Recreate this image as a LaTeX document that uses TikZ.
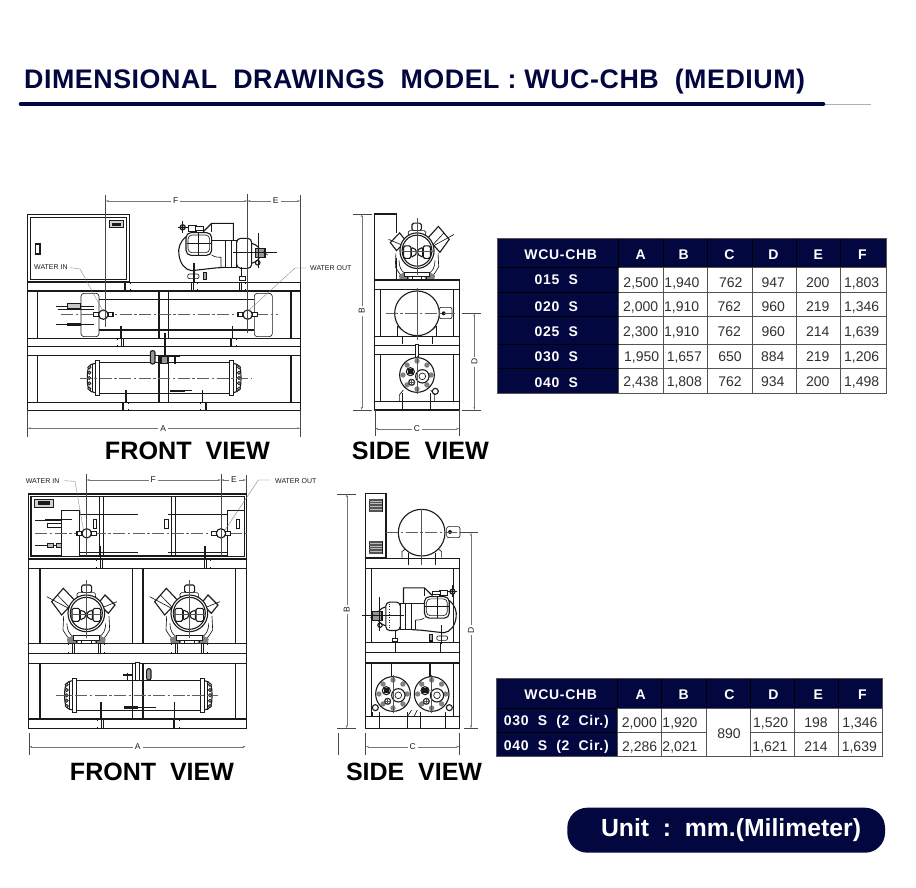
\documentclass[tikz,border=0pt]{standalone}
\usepackage{fontspec}
\setmainfont{Liberation Sans}
\usetikzlibrary{arrows.meta,calc}
\definecolor{navy}{HTML}{03073F}
\definecolor{ink}{HTML}{1A1A1A}
\tikzset{
  ln/.style={line width=.65pt,draw=ink},
  thk/.style={line width=1.1pt,draw=ink},
  hair/.style={line width=.35pt,draw=ink!75},
  cl/.style={line width=.4pt,draw=ink!70,dash pattern=on 12pt off 2.5pt on 2.5pt off 2.5pt},
  dimln/.style={line width=.3pt,draw=ink!60,{Stealth[length=3.2pt,width=1.8pt]}-{Stealth[length=3.2pt,width=1.8pt]}},
  ext/.style={line width=.5pt,draw=ink!80},
  dimlab/.style={fill=white,inner sep=2pt,text=ink,font=\fontsize{8.5}{9}\selectfont},
  small/.style={inner sep=0pt,text=ink,font=\fontsize{7}{8}\selectfont},
  leader/.style={line width=.3pt,draw=ink!60},
  cellnum/.style={inner sep=0pt,text height=10pt,text depth=0pt,text=ink!90,font=\fontsize{14}{16}\selectfont},
  headlab/.style={inner sep=0pt,text height=10.2pt,text depth=0pt,text=white,font=\fontsize{14}{16}\selectfont\bfseries\addfontfeature{LetterSpace=5}},
  viewlab/.style={inner sep=0pt,text=black},
  tblline/.style={line width=.7pt,draw=ink!75},
  tblhead/.style={line width=.7pt,draw=black},
}
\newcommand{\dimh}[6]{\coordinate (#1a) at (#2,#4);\coordinate (#1b) at (#3,#4);
  \draw[dimln] (#1a) -- (#1b);\node[dimlab] (#1l) at (#5,#4) {#6};}
\newcommand{\dimv}[6]{\coordinate (#1a) at (#4,#2);\coordinate (#1b) at (#4,#3);
  \draw[dimln] (#1a) -- (#1b);\node[dimlab,rotate=90] (#1l) at (#4,#5) {#6};}
% channel section on a rail
\newcommand{\chan}[4]{\begin{scope}[shift={(#1,#2)},xscale=#4]
  \draw[ln] (9,0) -- (-9,0) -- (-9,#3) -- (9,#3);
  \draw[ln] (-4,0) -- (-4,#3);
  \draw[ln] (9,0) -- (9,5);\draw[ln] (9,#3) -- +(0,-5);
\end{scope}}
% water connection
\newcommand{\wconn}[2]{\begin{scope}[shift={(#1,#2)}]
  \draw[thk,fill=white] (-29,-6) rectangle (-14,6);
  \draw[thk,fill=white] (14,-6) rectangle (29,6);
  \draw[thk,fill=white] (0,0) circle (14);
\end{scope}}
% heat exchanger head, tube end at origin
\newcommand{\hxhead}{
  \draw[ln,fill=white] (-13,-52) rectangle (0,52);
  \draw[thk] (-13,-44) .. controls (-32,-42) and (-36,-30) .. (-36,0) .. controls (-36,30) and (-32,42) .. (-13,44);
  \draw[ln] (-21,-43) -- (-21,43);
  \foreach \yy in {-32,-16,0,16,32}{\draw[ln,fill=ink!45] (-30,\yy) circle (5);}
}
% compressor seen from its end
\newcommand{\cmpfront}{
  \draw[ln] (-68,8) -- (-70,50) -- (-60,66) -- (-50,78);
  \draw[ln] (68,8) -- (70,50) -- (60,66) -- (50,78);
  \draw[ln] (-58,30) .. controls (-58,52) and (-50,62) .. (-42,68);
  \draw[ln] (58,30) .. controls (58,52) and (50,62) .. (42,68);
  \fill[ink!55] (-58,76) -- (-40,66) -- (-24,80) -- (-26,90) -- (-56,90) -- cycle;
  \fill[ink!55] (58,76) -- (40,66) -- (24,80) -- (26,90) -- (56,90) -- cycle;
  \draw[ln,fill=white] (-40,66) rectangle (40,80);
  \foreach \xx in {-30,-15,15,30}{\draw[ln] (\xx,80) -- (\xx,90);}
  \draw[thk,fill=white] (-104,-35) -- (-69,-75) -- (-34,-38) -- (-74,5) -- cycle;
  \draw[ln] (-87,-55) -- (-50,-17);
  \draw[ln] (-119,-50) -- (-25,0);
  \draw[thk,fill=white] (36,-30) -- (56,-55) -- (86,-25) -- (66,0) -- cycle;
  \draw[ln] (25,-8) -- (92,-35);
  \draw[thk,fill=white,rounded corners=1.5pt] (-14,-85) rectangle (16,-62);
  \draw[ln,fill=white,rounded corners=1.5pt] (-28,-62) rectangle (28,-47);
  \draw[thk,fill=white] (0,0) circle (55);
  \draw[thk] (0,0) circle (48);
  \draw[thk,fill=white,rounded corners=1.5pt] (-43,-15) rectangle (-20,24);
  \draw[thk,fill=white,rounded corners=1.5pt] (20,-15) rectangle (43,24);
  \draw[thk,fill=white,rounded corners=1pt] (-18,-10) -- (-3,-3) -- (-3,12) -- (-18,20) -- cycle;
  \draw[thk,fill=white,rounded corners=1pt] (18,-10) -- (3,-3) -- (3,12) -- (18,20) -- cycle;
  \draw[hair] (0,-100) -- (0,75);
  \draw[hair] (-50,3) -- (50,3);
}
% compressor seen from the side (coordinates as in the first front view)
\newcommand{\sidecomp}{
  \draw[thk] (513,170) .. controls (495,185) and (488,205) .. (492,225) .. controls (495,250) and (510,270) .. (530,272) -- (600,264) -- (630,262);
  \draw[ln] (590,225) .. controls (600,232) and (610,232) .. (618,232) -- (618,262);
  \draw[ln] (590,180) -- (630,180);
  \draw[thk] (565,155) -- (590,130) -- (655,130) -- (655,180);
  \draw[ln] (590,130) -- (590,155);
  \draw[thk,fill=white,rounded corners=5pt] (513,158) rectangle (590,226);
  \draw[ln,rounded corners=4pt] (519,165) rectangle (584,218);
  \draw[ln] (551,160) -- (551,224);\draw[ln] (515,190) -- (588,190);
  \draw[ln,fill=white] (520,137) rectangle (545,155);
  \draw[ln,fill=white] (540,140) rectangle (565,152);
  \draw[thk,fill=ink!40] (503,142) circle (8);
  \draw[ln] (488,142) -- (520,142);\draw[ln] (503,122) -- (503,160);
  \draw[ln,fill=white] (630,180) rectangle (665,262);
  \draw[ln] (650,180) -- (650,262);
  \draw[thk,fill=white,rounded corners=4pt] (665,175) rectangle (710,265);
  \draw[ln,dotted] (698,180) -- (698,260);
  \draw[thk] (710,190) .. controls (728,195) and (736,205) .. (736,220) .. controls (736,235) and (728,245) .. (710,250);
  \draw[thk,fill=ink!45] (722,205) rectangle (750,232);
  \draw[thk] (728,248) circle (7);
  \draw[ln] (745,215) -- (758,225);
  \draw[ln] (655,218) -- (785,218);
  \draw[ln] (730,160) -- (730,265);
  \draw[ln,fill=white,rounded corners=2pt] (518,282) rectangle (552,296);
  \draw[thk] (537,248) -- (537,306);
  \draw[thk,fill=ink!40] (566,278) rectangle (575,298);
  \draw[thk] (680,262) -- (680,300);
  \draw[ln,fill=white] (674,290) rectangle (690,300);
}
% tube-sheet seen from its end
\newcommand{\tankface}{
  \draw[thk,fill=white] (0,0) circle (52);
  \foreach \ang in {0,45,...,315}{\fill[ink!55] (\ang:42) circle (8);}
  \draw[thk] (-20,-10) circle (12);
  \fill[ink] (-28,-18) rectangle (-12,-2);
  \draw[thk,fill=white] (16,4) circle (20);
  \draw[ln] (16,4) circle (10);
  \draw[thk,fill=white] (-16,22) circle (9);
  \draw[hair] (-16,12) -- (-16,32);\draw[hair] (-26,22) -- (-6,22);
  \draw[hair] (0,-58) -- (0,58);
}
\newcommand{\louvre}[4]{\draw[ln,fill=ink!30] (#1,#2) rectangle (#3,#4);
  \foreach \frc in {0,.125,...,1}{\draw[hair] ($(#1,#2)!\frc!(#1,#4)$) -- ($(#3,#2)!\frc!(#3,#4)$);}}
\begin{document}
\begin{tikzpicture}[x=1pt,y=-1pt]
\useasboundingbox (0,0) rectangle (916,888);
\fill[white] (0,0) rectangle (916,888);
% title
\node[anchor=base west,inner sep=0pt,text=navy] (title) at (24,89)
  {\resizebox{781pt}{!}{\fontsize{25}{28}\selectfont\bfseries\addfontfeature{LetterSpace=2}DIMENSIONAL\ \ DRAWINGS\ \ MODEL\ :\ WUC-CHB\ \ (MEDIUM)}};
\draw[line width=.5pt,draw=ink!35] (800,104) -- (871,104);
\draw[line width=4.6pt,draw=navy,line cap=round] (21,104) -- (823,104);

% ---------- first front view
\begin{scope}[shift={(15,180)},scale=1/3]
  \draw[thk] (38,104) rectangle (344,305);
  \draw[thk] (46,113) rectangle (335,298);
  \draw[ln,fill=ink!20] (282,122) rectangle (326,143);
  \fill[ink] (292,128) rectangle (318,137);
  \draw[thk] (62,192) rectangle (75,222);
  \draw[thk] (38,307) rectangle (856,333);
  \draw[thk] (38,476) rectangle (856,500);
  \draw[thk] (38,500) rectangle (856,527);
  \draw[thk] (38,668) rectangle (856,691);
  \foreach \xx in {38,68,432,461,828,856}{
    \draw[thk] (\xx,333) -- (\xx,476);
    \draw[thk] (\xx,527) -- (\xx,668);}
  % upper exchanger
  \draw[thk] (252,358) -- (718,358);
  \draw[thk] (252,450) -- (718,450);
  \draw[ln,fill=white,rounded corners=3pt] (198,340) rectangle (252,470);
  \draw[ln,fill=white,rounded corners=3pt] (718,340) rectangle (772,470);
  \draw[ln] (123,378) -- (237,378);\draw[ln] (130,388) -- (237,388);
  \draw[ln,fill=ink!25] (157,370) rectangle (197,384);
  \draw[ln] (123,433) -- (237,433);
  \fill[ink] (155,428) rectangle (197,438);
  \draw[cl] (138,404) -- (788,404);
  \wconn{265}{404}\wconn{698}{404}
  \draw[thk] (318,438) -- (318,476);
  \draw[thk] (652,438) -- (652,476);
  \chan{316}{476}{24}{-1}\chan{654}{476}{24}{1}
  \chan{336}{307}{26}{1}\chan{538}{307}{26}{1}\chan{682}{307}{26}{1}
  % lower exchanger
  \draw[thk] (253,547) -- (642,547);
  \draw[thk] (253,640) -- (642,640);
  \begin{scope}[shift={(253,594)}]\hxhead\end{scope}
  \begin{scope}[shift={(642,594)},xscale=-1]\hxhead\end{scope}
  \draw[cl] (195,595) -- (708,595);
  \draw[thk,fill=ink!45,rounded corners=2pt] (406,512) rectangle (420,552);
  \draw[ln] (447,460) -- (447,530);\draw[ln] (452,460) -- (452,530);
  \draw[thk,fill=ink!45] (438,530) rectangle (458,550);
  \draw[thk] (462,530) -- (494,530);\draw[thk] (480,525) -- (480,552);
  \fill[ink] (465,629) rectangle (510,636);
  \draw[ln] (510,632) -- (532,632);
  \draw[thk] (333,630) -- (333,668);\draw[thk] (563,630) -- (563,668);
  \chan{330}{668}{23}{1}\chan{566}{668}{23}{-1}
  % compressor
  \sidecomp
  % dimensions
  \draw[ext] (272,45) -- (272,440);
  \draw[ext] (697,42) -- (697,460);
  \draw[ext] (856,45) -- (856,305);
  \draw[ext] (38,691) -- (38,770);
  \draw[ext] (856,691) -- (856,770);
  \dimh{fa}{272}{697}{63}{482}{F}
  \dimh{fe}{697}{856}{63}{782}{E}
  \dimh{aa}{38}{856}{745}{445}{A}
  \node[small,anchor=west] (win) at (57,260) {WATER IN};
  \coordinate (wina) at (165,263);
  \coordinate (winb) at (195,267);
  \coordinate (winc) at (265,395);
  \draw[leader] (wina) -- (winb) -- (winc);
  \node[small,anchor=west] (wout) at (885,264) {WATER OUT};
  \coordinate (wouta) at (875,264);
  \coordinate (woutb) at (840,264);
  \coordinate (woutc) at (700,392);
  \draw[leader] (wouta) -- (woutb) -- (woutc);
\end{scope}

% ---------- first side view
\begin{scope}[shift={(340,200)},scale=1/3]
  \draw[thk] (103,42) -- (170,42) -- (170,100);
  \draw[thk] (103,42) -- (103,240);
  \draw[thk] (170,175) -- (170,240);
  \begin{scope}[shift={(231,152)},xscale=-.93,yscale=.97]\cmpfront\end{scope}
  \draw[thk] (103,240) rectangle (358,268);
  \draw[thk] (103,410) rectangle (358,437);
  \draw[thk] (103,437) rectangle (358,464);
  \draw[thk] (103,605) rectangle (358,630);
  \foreach \xx in {103,122,340,358}{
    \draw[thk] (\xx,268) -- (\xx,410);
    \draw[thk] (\xx,464) -- (\xx,605);}
  % receiver
  \draw[ln] (172,378) -- (172,410);\draw[ln] (172,378) -- (186,390);
  \draw[ln] (290,378) -- (290,410);\draw[ln] (290,378) -- (276,390);
  \draw[ln] (186,410) -- (186,432);\draw[ln] (276,410) -- (276,432);
  \draw[thk,fill=white] (231,340) circle (67);
  \draw[ln,fill=white,rounded corners=2pt] (298,322) rectangle (336,356);
  \fill[ink] (311,340) circle (6);
  \draw[cl] (137,340) -- (345,340);
  \draw[hair] (231,265) -- (231,420);
  % tank end
  \draw[ln,fill=white] (226,432) rectangle (236,478);
  \draw[ln] (178,605) -- (178,585) -- (190,570);
  \draw[ln] (284,605) -- (284,585) -- (272,570);
  \draw[ln] (188,580) -- (188,630);\draw[ln] (272,580) -- (272,630);
  \begin{scope}[shift={(231,525)}]\tankface\end{scope}
  \draw[thk,fill=white] (286,574) circle (9);
  % dimensions
  \draw[ext] (38,42) -- (95,42);
  \draw[ext] (38,630) -- (95,630);
  \draw[ext] (365,340) -- (422,340);
  \draw[ext] (365,630) -- (422,630);
  \draw[ext] (105,630) -- (105,708);
  \draw[ext] (358,630) -- (358,708);
  \dimv{sb}{42}{630}{65}{332}{B}
  \dimv{sd}{340}{630}{403}{485}{D}
  \dimh{sc}{105}{358}{686}{231}{C}
\end{scope}

% ---------- second front view
\begin{scope}[shift={(15,470)},scale=1/3]
  \draw[thk] (40,72) rectangle (695,265);
  \draw[thk] (48,80) rectangle (688,258);
  \draw[ln,fill=ink!20] (58,88) rectangle (116,112);
  \fill[ink] (70,94) rectangle (106,106);
  \draw[ln] (252,80) -- (252,258);\draw[ln] (265,80) -- (265,258);
  \draw[ln] (468,80) -- (468,258);\draw[ln] (481,80) -- (481,258);
  \draw[ln] (192,133) -- (368,133);\draw[ln] (460,133) -- (637,133);
  \draw[ln] (192,247) -- (368,247);\draw[ln] (460,247) -- (637,247);
  \draw[ln,fill=white] (140,120) rectangle (192,260);
  \draw[ln,fill=white] (637,120) rectangle (688,260);
  \draw[ln] (234,147) rectangle (245,176);
  \draw[ln] (449,147) rectangle (460,176);
  \draw[ln] (663,147) rectangle (673,176);
  \draw[ln] (60,150) -- (140,150);\draw[thk] (90,148) -- (170,148);
  \draw[ln] (98,160) rectangle (140,172);
  \draw[ln] (60,225) -- (140,225);
  \draw[ln,fill=ink!30] (98,220) rectangle (115,231);
  \draw[ln,fill=ink!30] (124,220) rectangle (139,231);
  \draw[cl] (60,190) -- (700,190);
  \wconn{215}{190}\wconn{618}{190}
  \draw[thk] (256,228) -- (256,268);\draw[thk] (570,228) -- (570,268);
  \draw[thk] (40,268) rectangle (695,296);
  \draw[thk] (40,520) rectangle (695,550);
  \draw[thk] (40,550) rectangle (695,580);
  \draw[thk] (40,747) rectangle (695,775);
  \foreach \xx in {40,75,352,384,661,695}{
    \draw[thk] (\xx,296) -- (\xx,520);
    \draw[thk] (\xx,580) -- (\xx,747);}
  \chan{253}{268}{28}{-1}\chan{577}{268}{28}{1}
  % compressors
  \begin{scope}[shift={(214,430)}]\cmpfront\end{scope}
  \begin{scope}[shift={(523,430)}]\cmpfront\end{scope}
  \chan{169}{520}{30}{-1}\chan{259}{520}{30}{1}
  \chan{478}{520}{30}{-1}\chan{568}{520}{30}{1}
  % lower exchanger
  \draw[thk] (185,631) -- (555,631);
  \draw[thk] (185,722) -- (555,722);
  \begin{scope}[shift={(185,676)}]\hxhead\end{scope}
  \begin{scope}[shift={(555,676)},xscale=-1]\hxhead\end{scope}
  \draw[cl] (122,675) -- (610,675);
  \draw[ln,fill=white] (362,578) rectangle (374,632);
  \draw[thk,fill=ink!45,rounded corners=2pt] (395,596) rectangle (408,630);
  \draw[thk] (325,615) -- (352,615);\draw[thk] (338,610) -- (338,632);
  \fill[ink] (328,709) rectangle (370,716);
  \draw[ln] (370,713) -- (422,713);
  \draw[thk] (258,695) -- (258,747);\draw[thk] (478,695) -- (478,747);
  \chan{256}{747}{28}{-1}\chan{483}{747}{28}{1}
  % dimensions
  \draw[ext] (215,13) -- (215,258);
  \draw[ext] (618,13) -- (618,258);
  \draw[ext] (693,15) -- (693,70);
  \draw[ext] (42,790) -- (42,855);
  \dimh{ff}{215}{618}{30}{415}{F}
  \dimh{fg}{618}{693}{30}{657}{E}
  \dimh{ab}{43}{692}{830}{368}{A}
  \node[small,anchor=west] (win2) at (32,32) {WATER IN};
  \coordinate (win2a) at (148,32);
  \coordinate (win2b) at (180,34);
  \coordinate (win2c) at (205,178);
  \draw[leader] (win2a) -- (win2b) -- (win2c);
  \node[small,anchor=west] (wout2) at (780,32) {WATER OUT};
  \coordinate (wout2a) at (765,30);
  \coordinate (wout2b) at (730,30);
  \coordinate (wout2c) at (630,180);
  \draw[leader] (wout2a) -- (wout2b) -- (wout2c);
\end{scope}

% ---------- second side view
\begin{scope}[shift={(330,485)},scale=1/3]
  \draw[thk] (107,25) rectangle (168,218);
  \louvre{118}{42}{157}{80}
  \louvre{118}{168}{157}{205}
  % receiver
  \draw[ln] (216,218) -- (216,200) -- (232,186);
  \draw[ln] (335,218) -- (335,200) -- (318,186);
  \draw[thk,fill=white] (275,143) circle (70);
  \draw[ln,fill=white,rounded corners=2pt] (350,125) rectangle (390,158);
  \fill[ink] (360,141) circle (6);
  \draw[cl] (168,143) -- (415,143);
  \draw[hair] (275,73) -- (275,240);
  \draw[ln] (234,205) -- (234,240);\draw[ln] (316,205) -- (316,240);
  \draw[thk] (107,220) rectangle (388,250);
  \draw[thk] (107,473) rectangle (388,503);
  \draw[thk] (107,503) rectangle (388,534);
  \draw[thk] (107,695) rectangle (388,730);
  \foreach \xx in {107,125,370,388}{
    \draw[thk] (\xx,250) -- (\xx,473);
    \draw[thk] (\xx,534) -- (\xx,695);}
  % compressor
  \begin{scope}[shift={(853.3,184.9)},xscale=-.966,yscale=.95]\sidecomp\end{scope}
  \draw[ln] (197,470) -- (197,503);\draw[ln] (330,470) -- (330,503);
  % tanks
  \draw[thk] (185,534) -- (185,575);\draw[thk] (300,534) -- (300,575);
  \begin{scope}[shift={(189,627)}]\tankface\end{scope}
  \begin{scope}[shift={(305,627)}]\tankface\end{scope}
  \draw[thk,fill=white] (136,668) circle (9);
  \draw[thk,fill=white] (358,668) circle (9);
  \foreach \xx in {148,232,270,347}{\draw[ln] (\xx,680) -- (\xx,730);}
  \draw[ln] (128,695) -- (128,680);\draw[ln] (232,695) -- (245,675);\draw[ln] (252,695) -- (262,675);
  % dimensions
  \draw[ext] (22,27) -- (78,27);
  \draw[ext] (22,730) -- (78,730);
  \draw[ext] (390,143) -- (443,143);
  \draw[ext] (403,730) -- (443,730);
  \draw[ext] (25,745) -- (25,810);
  \draw[ext] (107,745) -- (107,810);
  \draw[ext] (388,745) -- (388,810);
  \dimv{tb}{27}{730}{50}{373}{B}
  \dimv{td}{143}{730}{423}{435}{D}
  \dimh{tc}{107}{388}{785}{248}{C}
\end{scope}

% view captions
\node[viewlab] (fv1) at (187.5,451) {\resizebox{165pt}{!}{\fontsize{25}{28}\selectfont\bfseries FRONT\ \ VIEW}};
\node[viewlab] (sv1) at (420.5,451) {\resizebox{137pt}{!}{\fontsize{25}{28}\selectfont\bfseries SIDE\ \ VIEW}};
\node[viewlab] (fv2) at (152,772) {\resizebox{164pt}{!}{\fontsize{25}{28}\selectfont\bfseries FRONT\ \ VIEW}};
\node[viewlab] (sv2) at (414,772) {\resizebox{136pt}{!}{\fontsize{25}{28}\selectfont\bfseries SIDE\ \ VIEW}};

% ---------- table one
\fill[navy] (497.7,238.3) rectangle (618.7,393.3);
\fill[navy] (618.7,238.3) rectangle (886.7,267.7);
\foreach \xx in {618.7,663,707.7,752,796.7,840.3}{\draw[tblhead] (\xx,238.3) -- (\xx,267.7);}
\foreach \xx in {618.7,663,707.7,752,796.7,840.3,886.7}{\draw[tblline] (\xx,267.7) -- (\xx,393.3);}
\foreach \yy in {267.7,292.3,316.7,344.3,368.7}{\draw[tblline] (618.7,\yy) -- (886.7,\yy);\draw[tblhead] (497.7,\yy) -- (618.7,\yy);}
\draw[tblline] (497.7,238.3) rectangle (886.7,393.3);
\node[headlab] (ah) at (560.7,254.7) {WCU-CHB};
\foreach \xx/\vv [count=\nn] in {640.7/A,683.7/B,729.3/C,773.3/D,818.3/E,862.3/F}{\node[headlab] (ah\nn) at (\xx,254.7) {\vv};}
\foreach \yy/\vv [count=\nn] in {279/015,306/020,331/025,356.7/030,382.7/040}{\node[headlab] (ar\nn) at (556.3,\yy) {\vv\ \ S};}
\foreach \xx/\vv [count=\nn] in {641/{2,500},682/{1,940},730.7/762,773.3/947,817.7/200,861.7/{1,803}}{\node[cellnum] (ra\nn) at (\xx,282.3) {\vv};}
\foreach \xx/\vv [count=\nn] in {640.7/{2,000},681.7/{1,910},729.3/762,773.3/960,817.7/219,861.7/{1,346}}{\node[cellnum] (rb\nn) at (\xx,306) {\vv};}
\foreach \xx/\vv [count=\nn] in {640.7/{2,300},681.7/{1,910},729.3/762,773.3/960,817.7/214,861.7/{1,639}}{\node[cellnum] (rc\nn) at (\xx,331) {\vv};}
\foreach \xx/\vv [count=\nn] in {641.7/{1,950},684.3/{1,657},730/650,772.7/884,817.7/219,861.7/{1,206}}{\node[cellnum] (rd\nn) at (\xx,356.7) {\vv};}
\foreach \xx/\vv [count=\nn] in {641/{2,438},684.3/{1,808},730/762,772.7/934,817.7/200,861.7/{1,498}}{\node[cellnum] (re\nn) at (\xx,381.3) {\vv};}

% ---------- table two
\fill[navy] (496.3,678.3) rectangle (617.3,756.7);
\fill[navy] (617.3,678.3) rectangle (882.7,708.3);
\foreach \xx in {617.3,661.3,706.3,750.3,794.3,838.7}{\draw[tblhead] (\xx,678.3) -- (\xx,708.3);}
\foreach \xx in {617.3,661.3,706.3,750.3,794.3,838.7,882.7}{\draw[tblline] (\xx,708.3) -- (\xx,756.7);}
\draw[tblline] (617.3,708.3) -- (882.7,708.3);
\draw[tblline] (617.3,732.3) -- (706.3,732.3);
\draw[tblline] (750.3,732.3) -- (882.7,732.3);
\draw[tblhead] (496.3,708.3) -- (617.3,708.3);
\draw[tblhead] (496.3,732.3) -- (617.3,732.3);
\draw[tblline] (496.3,678.3) rectangle (882.7,756.7);
\node[headlab] (bh) at (560.7,694) {WCU-CHB};
\foreach \xx/\vv [count=\nn] in {640.7/A,683.7/B,729.3/C,773.3/D,818.3/E,862.3/F}{\node[headlab] (bh\nn) at (\xx,694) {\vv};}
\node[headlab] (br1) at (556.3,720) {030\ \ S\ \ (2\ \ Cir.)};
\node[headlab] (br2) at (556.3,745) {040\ \ S\ \ (2\ \ Cir.)};
\foreach \xx/\vv [count=\nn] in {639.3/{2,000},680/{1,920},770.7/{1,520},816/198,860/{1,346}}{\node[cellnum] (sa\nn) at (\xx,722.3) {\vv};}
\foreach \xx/\vv [count=\nn] in {639.7/{2,286},680/{2,021},770/{1,621},816/214,859.3/{1,639}}{\node[cellnum] (sb\nn) at (\xx,746) {\vv};}
\node[cellnum] (bc) at (729,733.3) {890};

% unit pill
\fill[navy,rounded corners=20pt] (567.3,807.7) rectangle (885,852.7);
\node[inner sep=0pt,text=white] (unit) at (731,830.5) {\resizebox{260pt}{!}{\fontsize{24}{28}\selectfont\bfseries Unit\ \ :\ \ mm.(Milimeter)}};
\end{tikzpicture}
\end{document}
